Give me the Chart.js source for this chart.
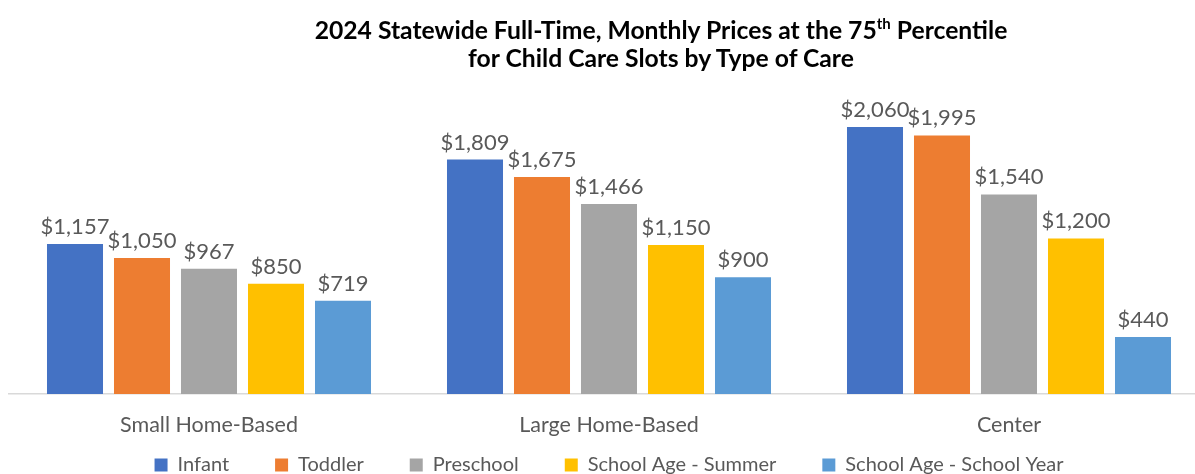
<!DOCTYPE html>
<html>
<head>
<meta charset="utf-8">
<script src="https://cdn.jsdelivr.net/npm/chart.js@4"></script>
<style>
  html, body { margin: 0; padding: 0; background: #fff; overflow: hidden; }
  #wrap { position: relative; width: 1209px; height: 474px; }
  #title {
    position: absolute; left: 661px; top: 16px; transform: translateX(-50%);
    font: bold 24.7px Lato, sans-serif; color: #000; text-align: center;
    white-space: nowrap; line-height: 28px;
  }
  #title sup { font-size: 15px; line-height: 0; vertical-align: 10px; }
  canvas { position: absolute; left: 0; top: 0; }
</style>
</head>
<body>
<div id="wrap">
  <canvas id="chart_view" width="1209" height="474"></canvas>
  <div id="title">2024 Statewide Full-Time, Monthly Prices at the 75<sup>th</sup> Percentile<br>for Child Care Slots by Type of Care</div>
</div>
<script>
const careTypes = ['Small Home-Based', 'Large Home-Based', 'Center'];
const infant = [1157, 1809, 2060];
const toddler = [1050, 1675, 1995];
const preschool = [967, 1466, 1540];
const schoolAgeSummer = [850, 1150, 1200];
const schoolAgeYear = [719, 900, 440];

const target = document.getElementById('chart_view');

const data = {
  labels: careTypes,
  datasets: [
    { label: 'Infant', data: infant, backgroundColor: '#4472C4' },
    { label: 'Toddler', data: toddler, backgroundColor: '#ED7D31' },
    { label: 'Preschool', data: preschool, backgroundColor: '#A5A5A5' },
    { label: 'School Age - Summer', data: schoolAgeSummer, backgroundColor: '#FFC000' },
    { label: 'School Age - School Year', data: schoolAgeYear, backgroundColor: '#5B9BD5' }
  ]
};

// value labels above each bar
const barValues = {
  id: 'barValues',
  afterDatasetsDraw(chart) {
    const ctx = chart.ctx;
    ctx.save();
    ctx.font = '22px Lato';
    ctx.fillStyle = '#595959';
    ctx.textAlign = 'center';
    ctx.textBaseline = 'alphabetic';
    chart.data.datasets.forEach((ds, i) => {
      chart.getDatasetMeta(i).data.forEach((bar, j) => {
        ctx.fillText('$' + ds.data[j].toLocaleString('en-US'), bar.x, bar.y - 10);
      });
    });
    ctx.restore();
  }
};

const config = {
  type: 'bar',
  data: data,
  options: {
    responsive: false,
    animation: false,
    barPercentage: 0.836,
    categoryPercentage: 0.8375,
    layout: { padding: { top: 70, left: 9, right: 0, bottom: 0 } },
    scales: {
      x: {
        grid: { display: false, drawTicks: false },
        border: { display: true, color: '#d9d9d9', width: 1.5 },
        // mirrored with negative padding so the labels sit below the axis
        // without being clipped by the (shortened) scale box
        ticks: { color: '#595959', font: { family: 'Lato', size: 21.5 }, mirror: true, padding: -44 },
        afterFit: (scale) => { scale.height = 15; }
      },
      y: {
        display: false,
        min: 0,
        max: 2500
      }
    },
    plugins: {
      title: { display: false },
      tooltip: { enabled: false },
      legend: {
        position: 'bottom',
        align: 'center',
        maxHeight: 65,
        labels: {
          color: '#595959',
          font: { family: 'Lato', size: 20 },
          boxWidth: 13,
          boxHeight: 13,
          padding: 46
        }
      }
    }
  },
  plugins: [barValues]
};

var myChart = new Chart(target, config);
</script>
</body>
</html>
